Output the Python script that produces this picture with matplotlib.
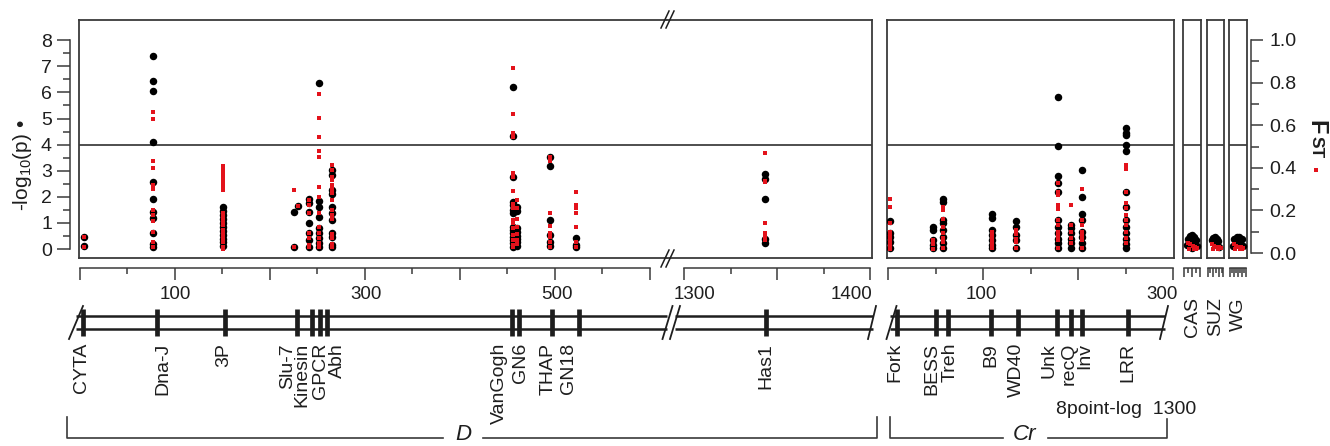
import matplotlib
matplotlib.use('Agg')
import matplotlib.pyplot as plt
from matplotlib.ticker import FixedLocator

plt.rcParams['font.family'] = ['Liberation Sans', 'DejaVu Sans']
plt.rcParams['mathtext.fontset'] = 'custom'
plt.rcParams['mathtext.rm'] = 'Liberation Sans'
plt.rcParams['mathtext.it'] = 'Liberation Sans:italic'

# ---------------- data ----------------
# scaffold D, first block (kb) and the block after the break
d1_genes = ['CYTA', 'Dna-J', '3P', 'Slu-7', 'Kinesin', 'GPCR', 'Abh',
            'VanGogh', 'GN6', 'THAP', 'GN18']
d1_gene_pos = [3.4, 81.6, 153, 229, 244.7, 253, 260.5, 455, 462.6, 497.4, 525.8]
d2_genes = ['Has1']
d2_gene_pos = [1344]
cr_genes = ['Fork', 'BESS', 'Treh', 'B9', 'WD40', 'Unk', 'recQ', 'Inv', 'LRR']
cr_gene_pos = [9.5, 50.5, 63, 108, 137, 178, 193, 204, 252.6]

# SNP clusters: position, -log10(p) (black) and Fst (red)
d1_snp_pos = [4.7, 77, 151, 225.8, 229.7, 241.6, 252, 265.8, 456, 460.5, 495, 522.6]
d1_logp = [
    [0.1, 0.45],
    [7.4, 6.45, 6.05, 4.1, 2.55, 1.92, 1.4, 1.2, 0.6, 0.2, 0.08],
    [1.6, 1.45, 1.3, 1.15, 1.0, 0.85, 0.7, 0.55, 0.4, 0.25, 0.1],
    [1.42, 0.08],
    [1.66],
    [1.9, 1.75, 1.4, 0.98, 0.6, 0.35, 0.08],
    [6.35, 1.84, 1.6, 1.22, 0.8, 0.6, 0.42, 0.24, 0.08],
    [3.03, 2.83, 2.26, 2.1, 1.62, 1.38, 1.1, 0.6, 0.45, 0.15, 0.08],
    [6.22, 4.33, 2.77, 1.81, 1.69, 1.5, 1.37, 0.85, 0.73, 0.6, 0.47, 0.34, 0.22, 0.09],
    [1.6, 1.45, 0.8, 0.65, 0.5, 0.38, 0.25, 0.12],
    [3.53, 3.18, 1.1, 0.54, 0.28, 0.11],
    [0.41, 0.15, 0.08],
]
d1_fst = [
    [0.03, 0.075],
    [0.66, 0.63, 0.43, 0.40, 0.32, 0.30, 0.20, 0.18, 0.15, 0.10, 0.05, 0.03],
    [0.41, 0.393, 0.376, 0.36, 0.344, 0.328, 0.312, 0.296, 0.19, 0.17, 0.15, 0.13,
     0.11, 0.09, 0.07, 0.05, 0.03, 0.02],
    [0.296, 0.03],
    [0.22],
    [0.25, 0.225, 0.19, 0.094, 0.07, 0.038, 0.028],
    [0.745, 0.635, 0.543, 0.48, 0.452, 0.308, 0.264, 0.188, 0.123, 0.094, 0.07, 0.047, 0.028],
    [0.413, 0.39, 0.358, 0.343, 0.32, 0.30, 0.28, 0.25, 0.20, 0.18, 0.16, 0.09, 0.07, 0.04, 0.03],
    [0.87, 0.653, 0.565, 0.543, 0.375, 0.358, 0.29, 0.228, 0.21, 0.155, 0.14, 0.116,
     0.085, 0.061, 0.038, 0.03],
    [0.25, 0.21, 0.16, 0.12, 0.09, 0.06, 0.04],
    [0.45, 0.43, 0.186, 0.127, 0.093, 0.075, 0.05, 0.03],
    [0.288, 0.225, 0.21, 0.19, 0.124, 0.05, 0.03],
]
d2_snp_pos = [1343.5]
d2_logp = [[2.87, 2.7, 1.92, 0.37, 0.22]]
d2_fst = [[0.468, 0.34, 0.332, 0.14, 0.092, 0.077, 0.06]]

cr_snp_pos = [2, 47, 58, 109.5, 135, 179, 193, 204, 250.5]
cr_logp = [
    [1.09, 0.6, 0.47, 0.28, 0.03],
    [0.85, 0.73, 0.34, 0.15, 0.03],
    [1.92, 1.81, 1.1, 0.98, 0.73, 0.47, 0.22, 0.03],
    [1.33, 1.2, 0.73, 0.54, 0.34, 0.15, 0.03],
    [1.07, 0.83, 0.54, 0.34, 0.03],
    [5.84, 3.95, 2.8, 2.52, 2.2, 1.1, 0.85, 0.6, 0.4, 0.22, 0.03],
    [0.92, 0.8, 0.6, 0.4, 0.22, 0.05],
    [3.03, 1.98, 1.33, 1.1, 0.66, 0.47, 0.22, 0.03],
    [4.62, 4.46, 4.37, 3.98, 3.77, 2.2, 1.6, 1.1, 0.85, 0.6, 0.4, 0.2, 0.03],
]
cr_fst = [
    [0.254, 0.217, 0.14, 0.1, 0.08, 0.06, 0.045, 0.03, 0.02],
    [0.06, 0.04, 0.02],
    [0.214, 0.2, 0.158, 0.12, 0.095, 0.07, 0.05, 0.025],
    [0.1, 0.085, 0.07, 0.055, 0.04, 0.025],
    [0.11, 0.09, 0.065, 0.05, 0.025],
    [0.327, 0.288, 0.272, 0.225, 0.205, 0.155, 0.13, 0.1, 0.08, 0.06, 0.025],
    [0.225, 0.13, 0.1, 0.07, 0.045],
    [0.3, 0.155, 0.133, 0.1, 0.08, 0.06, 0.025],
    [0.413, 0.393, 0.288, 0.233, 0.21, 0.18, 0.155, 0.13, 0.1, 0.07, 0.045],
]

# small contigs
cas_logp_pos = [15, 11, 19, 9, 21, 13, 17, 7, 23, 15]
cas_logp = [0.55, 0.5, 0.47, 0.4, 0.35, 0.3, 0.22, 0.15, 0.1, 0.05]
cas_fst_pos = [8, 12, 16, 20, 24, 10, 18, 22]
cas_fst = [0.045, 0.04, 0.035, 0.03, 0.025, 0.02, 0.02, 0.02]
suz_logp_pos = [14, 10, 18, 8, 20, 12, 16, 22]
suz_logp = [0.47, 0.42, 0.4, 0.33, 0.3, 0.22, 0.15, 0.06]
suz_fst_pos = [9, 13, 17, 21, 24, 11, 19]
suz_fst = [0.04, 0.035, 0.03, 0.03, 0.025, 0.02, 0.02]
wg_logp_pos = [13, 17, 9, 21, 11, 19, 15, 7, 23]
wg_logp = [0.47, 0.47, 0.38, 0.38, 0.3, 0.3, 0.2, 0.12, 0.1]
wg_fst_pos = [8, 12, 16, 20, 24, 10, 18, 22]
wg_fst = [0.04, 0.035, 0.03, 0.03, 0.025, 0.02, 0.02, 0.02]

# ---------------- layout ----------------
W, H = 1330, 446
TOP, BOT = 20, 258
LOGP_LIM = ((249 - BOT) / 26.1, (249 - TOP) / 26.1)
FST_LIM = ((253 - BOT) / 213.0, (253 - TOP) / 213.0)
RED = '#e3121b'
EDGE = '#3a3a3a'
INK = '#1e1e1e'
BLACK_MS = 5.4
RED_MS = 2.3

# pixel of first value, first value, pixels per unit
SEG = {'D1': (79.5, 0.0, 0.95), 'D2': (684.0, 1300.0, 1.86), 'Cr': (888.0, 0.0, 0.95)}


def val(seg, px):
    p0, v0, s = SEG[seg]
    return v0 + (px - p0) / s


def rect(x0, x1, y0, y1):
    return [x0 / W, 1 - y1 / H, (x1 - x0) / W, (y1 - y0) / H]


fig = plt.figure(figsize=(W / 100, H / 100), dpi=100)


def add_panel(x0, x1, xlim, hide=()):
    ax = fig.add_axes(rect(x0, x1, TOP, BOT))
    ax.set_xlim(xlim)
    ax.set_ylim(LOGP_LIM)
    ax.set_xticks([])
    ax.set_yticks([])
    for k, s in ax.spines.items():
        s.set_linewidth(1.3)
        s.set_color(EDGE)
        if k in hide:
            s.set_visible(False)
    ax.axhline(4, color=INK, lw=1.1, zorder=1)
    axf = ax.twinx()
    axf.set_ylim(FST_LIM)
    axf.set_yticks([])
    for s in axf.spines.values():
        s.set_visible(False)
    return ax, axf


def plot_clusters(ax, axf, pos, logp, fst):
    for x, lp in zip(pos, logp):
        ax.plot([x] * len(lp), lp, 'o', color='black', ms=BLACK_MS, mew=0, zorder=3)
    for x, fs in zip(pos, fst):
        axf.plot([x] * len(fs), fs, 's', color=RED, ms=RED_MS, mew=0, zorder=4)


def add_xaxis(x0, x1, xlim, bounds, majors, minors, labels=None, offsets=None,
              major_len=8.6, minor_len=4.3):
    ax = fig.add_axes(rect(x0, x1, 262, 268))
    ax.set_xlim(xlim)
    ax.set_ylim(0, 1)
    ax.patch.set_visible(False)
    for k in ['top', 'left', 'right']:
        ax.spines[k].set_visible(False)
    ax.spines['bottom'].set_bounds(*bounds)
    ax.spines['bottom'].set_linewidth(1.1)
    ax.spines['bottom'].set_color(EDGE)
    ax.set_yticks([])
    ax.xaxis.set_major_locator(FixedLocator(majors))
    ax.xaxis.set_minor_locator(FixedLocator(minors))
    ax.set_xticklabels([''] * len(majors))
    ax.tick_params(axis='x', which='major', length=major_len, width=1.1, color=EDGE)
    ax.tick_params(axis='x', which='minor', length=minor_len, width=1.1, color=EDGE)
    if labels:
        for (v, t), dx in zip(labels, offsets):
            ax.annotate(t, xy=(v, 0), xycoords=('data', 'axes fraction'),
                        xytext=(dx, -19), textcoords='offset points',
                        ha='center', va='center', fontsize=13.5, color=INK)
    return ax


def add_track(x0, x1, xlim, seg, line_px, slashes, genes, gpos, label_dx):
    ax = fig.add_axes(rect(x0, x1, 296, H))
    ax.set_xlim(xlim)
    ax.set_ylim(H, 296)
    ax.axis('off')
    s = SEG[seg][2]
    xa, xb = val(seg, line_px[0]), val(seg, line_px[1])
    for yy in (316, 329):
        ax.plot([xa, xb], [yy, yy], color=INK, lw=1.8, clip_on=False,
                solid_capstyle='butt')
    for spx, hw in slashes:
        c = val(seg, spx)
        ax.plot([c - hw / s, c + hw / s], [339, 306], color=INK, lw=1.3, clip_on=False)
    ax.vlines(gpos, 309, 336, color=INK, lw=3.4, clip_on=False)
    for g, p, dx in zip(genes, gpos, label_dx):
        ax.text(p + dx / s, 343, g, rotation=90, ha='center', va='top',
                fontsize=14, color=INK)
    return ax


# ---- main panels ----
d1_xlim = (val('D1', 79), val('D1', 667))
d2_xlim = (val('D2', 667), val('D2', 872))
cr_xlim = (val('Cr', 887), val('Cr', 1174))

axD1, fD1 = add_panel(79, 667, d1_xlim, hide=('right',))
axD2, fD2 = add_panel(667, 872, d2_xlim, hide=('left',))
axCr, fCr = add_panel(887, 1174, cr_xlim)
plot_clusters(axD1, fD1, d1_snp_pos, d1_logp, d1_fst)
plot_clusters(axD2, fD2, d2_snp_pos, d2_logp, d2_fst)
plot_clusters(axCr, fCr, cr_snp_pos, cr_logp, cr_fst)

small = [
    ('CAS', 1183, 1201, cas_logp_pos, cas_logp, cas_fst_pos, cas_fst,
     [1, 15, 29], [8, 22]),
    ('SUZ', 1207, 1224, suz_logp_pos, suz_logp, suz_fst_pos, suz_fst,
     [1, 11, 21, 29], [6, 16, 26]),
    ('WG', 1229, 1247, wg_logp_pos, wg_logp, wg_fst_pos, wg_fst,
     [1, 8, 15, 22, 29], [4.5, 11.5, 18.5, 25.5]),
]
small_label_px = [1193, 1216, 1238]
for (name, x0, x1, lpx, lp, fpx, fs, maj, mnr), lx in zip(small, small_label_px):
    a, af = add_panel(x0, x1, (0, 30))
    a.plot(lpx, lp, 'o', color='black', ms=BLACK_MS, mew=0, zorder=3)
    af.plot(fpx, fs, 's', color=RED, ms=RED_MS, mew=0, zorder=4)
    add_xaxis(x0, x1, (0, 30), (1, 29), maj, mnr, major_len=6.5, minor_len=3.6)
    fig.text(lx / W, 1 - 297 / H, name, rotation=90, ha='center', va='top',
             fontsize=14, color=INK)

# ---- x axes ----
add_xaxis(79, 667, d1_xlim, (0, 600), [0, 100, 200, 300, 400, 500, 600],
          [50, 150, 250, 350, 450, 550],
          labels=[(100, '100'), (300, '300'), (500, '500')], offsets=[0.5, 1, 1.5])
add_xaxis(667, 872, d2_xlim, (1300, 1400), [1300, 1350, 1400], [1325, 1375],
          labels=[(1300, '1300'), (1400, '1400')], offsets=[7.5, -13])
add_xaxis(887, 1174, cr_xlim, (0, 300), [0, 100, 200, 300], [50, 150, 250],
          labels=[(100, '100'), (300, '300')], offsets=[-1, -8])

# ---- y axes ----
axL = fig.add_axes(rect(70, 79, TOP, BOT))
axL.set_ylim(LOGP_LIM)
axL.patch.set_visible(False)
for k in ['top', 'bottom', 'right']:
    axL.spines[k].set_visible(False)
axL.spines['left'].set_bounds(0, 8)
axL.spines['left'].set_color(EDGE)
axL.spines['left'].set_linewidth(1.1)
axL.set_xticks([])
axL.yaxis.set_major_locator(FixedLocator(range(0, 9)))
axL.yaxis.set_minor_locator(FixedLocator([i + 0.5 for i in range(8)]))
axL.tick_params(axis='y', which='major', length=9.4, width=1.1, pad=3.6,
                labelsize=14, color=EDGE, labelcolor=INK)
axL.tick_params(axis='y', which='minor', length=4.8, width=1.1, color=EDGE)

axR = fig.add_axes(rect(1240, 1251, TOP, BOT))
axR.set_ylim(FST_LIM)
axR.patch.set_visible(False)
for k in ['top', 'bottom', 'left']:
    axR.spines[k].set_visible(False)
axR.spines['right'].set_bounds(0, 1)
axR.spines['right'].set_color(EDGE)
axR.spines['right'].set_linewidth(1.1)
axR.set_xticks([])
axR.yaxis.tick_right()
axR.yaxis.set_major_locator(FixedLocator([0, 0.2, 0.4, 0.6, 0.8, 1.0]))
axR.set_yticklabels(['0.0', '0.2', '0.4', '0.6', '0.8', '1.0'])
axR.yaxis.set_minor_locator(FixedLocator([0.1, 0.3, 0.5, 0.7, 0.9]))
axR.tick_params(axis='y', which='major', length=8.6, width=1.1, pad=4.5,
                labelsize=14, color=EDGE, labelcolor=INK)
axR.tick_params(axis='y', which='minor', length=6.0, width=1.1, color=EDGE)

# ---- gene tracks ----
add_track(79, 667, d1_xlim, 'D1', (76, 667), [(76, 7), (667.5, 5)],
          d1_genes, d1_gene_pos, [-1, 5.5, -1.5, -9.5, -10, 1, 10.5, -12, 1.5, -3.5, -10.5])
add_track(667, 872, d2_xlim, 'D2', (675, 873), [(675, 5), (872, 4)],
          d2_genes, d2_gene_pos, [0])
add_track(887, 1174, cr_xlim, 'Cr', (890, 1165), [(891.5, 5), (1164, 4)],
          cr_genes, cr_gene_pos, [-2, -4.5, 2, 0, -1.5, -8.5, -2.5, 3, 0])

# ---- overlay: break marks, brackets, axis titles ----
ov = fig.add_axes([0, 0, 1, 1])
ov.set_xlim(0, W)
ov.set_ylim(H, 0)
ov.axis('off')
for cx in (665, 670):
    ov.plot([cx - 4, cx + 4], [28, 11], color=INK, lw=1.1)
    ov.plot([cx - 4, cx + 4], [267, 250], color=INK, lw=1.1)

bk = dict(color=EDGE, lw=1.2)
ov.plot([67, 67, 443], [417, 438, 438], **bk)
ov.plot([483, 877, 877], [438, 438, 417], **bk)
ov.text(463, 434, 'D', fontsize=16, style='italic', ha='center', va='center', color=INK)
ov.plot([890, 890, 1003], [417, 438, 438], **bk)
ov.plot([1048, 1167, 1167], [438, 438, 419], **bk)
ov.text(1025, 434, 'Cr', fontsize=16, style='italic', ha='center', va='center', color=INK)
ov.text(1196, 410, '8point-log  1300', fontsize=14, ha='right', va='center', color=INK)

ov.text(22, 165, '-log$_{10}$(p) \u2022', rotation=90, fontsize=15,
        ha='center', va='center', color=INK)
ov.text(1316, 127, 'F', rotation=270, fontsize=17, fontweight='bold',
        ha='center', va='center', color=INK)
ov.text(1316, 147, 'ST', rotation=270, fontsize=12.5, fontweight='bold',
        ha='center', va='center', color=INK)
ov.plot([1316], [170], 's', color=RED, ms=2.6, mew=0)

fig.savefig('out.png', dpi=100)
